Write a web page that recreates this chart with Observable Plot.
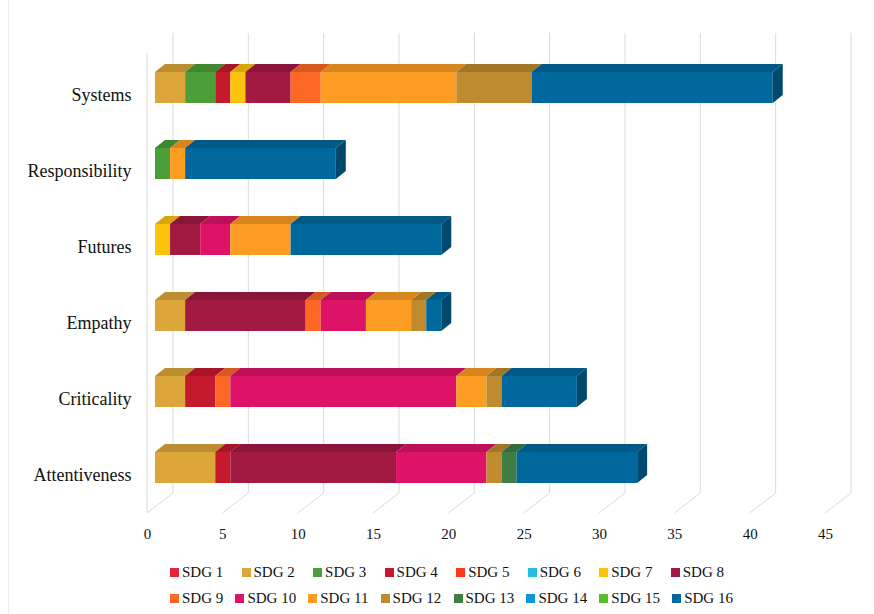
<!DOCTYPE html>
<html>
<head>
<meta charset="utf-8">
<script src="https://cdn.jsdelivr.net/npm/d3@7"></script>
<script src="https://cdn.jsdelivr.net/npm/@observablehq/plot@0.6"></script>
<style>
  body { margin: 0; background: #fff; }
  #wrap { position: relative; width: 874px; height: 614px; overflow: hidden; color: #111; }
  #wrap::before { content: ""; position: absolute; left: 8px; top: 0; bottom: 0;
                  border-left: 1px solid #ececec; }
  #legend { margin-top: 9px; }
  .legend-row { display: flex; justify-content: space-between; align-items: center;
                height: 26px; margin-left: 170px; font-size: 15px;
                font-family: "Liberation Serif", "Times New Roman", serif; }
  .legend-item { display: flex; align-items: center; white-space: nowrap;
                 font-family: "Liberation Serif", "Times New Roman", serif; }
  .legend-item .sw { width: 9px; height: 9px; margin-right: 3px; display: inline-block; }
</style>
</head>
<body>
<div id="wrap"><div id="chart"></div><div id="legend"></div></div>
<script>
// Competences (rows, top to bottom) and SDG series
const categories = ["Systems", "Responsibility", "Futures", "Empathy", "Criticality", "Attentiveness"];
const sdgLabels = ["SDG 1", "SDG 2", "SDG 3", "SDG 4", "SDG 5", "SDG 6", "SDG 7", "SDG 8",
                   "SDG 9", "SDG 10", "SDG 11", "SDG 12", "SDG 13", "SDG 14", "SDG 15", "SDG 16"];
const sdgColors = ["#E5243B", "#DDA63A", "#4C9F38", "#C5192D", "#FF3A21", "#26BDE2", "#FCC30B", "#A21942",
                   "#FD6925", "#DD1367", "#FD9D24", "#BF8B2E", "#3F7E44", "#0A97D9", "#56C02B", "#00689D"];
const xTicks = [0, 5, 10, 15, 20, 25, 30, 35, 40, 45];

// Counts per SDG (SDG 1 … SDG 16) for each competence
const systems        = [0, 2, 2, 1, 0, 0, 1, 3, 2, 0, 9, 5, 0, 0, 0, 16];
const responsibility = [0, 0, 1, 0, 0, 0, 0, 0, 0, 0, 1, 0, 0, 0, 0, 10];
const futures        = [0, 0, 0, 0, 0, 0, 1, 2, 0, 2, 4, 0, 0, 0, 0, 10];
const empathy        = [0, 2, 0, 0, 0, 0, 0, 8, 1, 3, 3, 1, 0, 0, 0, 1];
const criticality    = [0, 2, 0, 2, 0, 0, 0, 0, 1, 15, 2, 1, 0, 0, 0, 5];
const attentiveness  = [0, 4, 0, 1, 0, 0, 0, 11, 0, 6, 0, 1, 1, 0, 0, 8];

const countsByCategory = {
  Systems: systems, Responsibility: responsibility, Futures: futures,
  Empathy: empathy, Criticality: criticality, Attentiveness: attentiveness
};

const rows = categories.flatMap(cat =>
  countsByCategory[cat]
    .map((v, i) => ({category: cat, sdg: sdgLabels[i], value: v}))
    .filter(d => d.value > 0)
);

// depth of the pseudo-3D extrusion (px)
const DX = 10, DY = 8;
// floor / back-wall geometry of the grid (px)
const BACK = 18, FRONT = -8, FLOOR = 20;

function gridWalls(index, scales, values, dimensions) {
  const {marginTop, height, marginBottom} = dimensions;
  const yTop = marginTop, yBottom = height - marginBottom;
  const g = d3.create("svg:g").attr("fill", "none").attr("stroke", "#dcdcdc").attr("stroke-width", 1);
  for (const t of xTicks) {
    const x = scales.x(t);
    g.append("path").attr("d", `M${x + BACK},${yTop}V${yBottom}L${x + FRONT},${yBottom + FLOOR}`);
  }
  const x0 = scales.x(xTicks[0]) + FRONT;
  g.append("path").attr("d", `M${x0},${yTop + FLOOR}V${yBottom + FLOOR}`);
  return g.node();
}

function extrusion(index, scales) {
  const g = d3.create("svg:g");
  for (const cat of categories) {
    const y0 = scales.y(cat);
    const bw = scales.y.bandwidth();
    const segs = rows.filter(d => d.category === cat);
    let acc = 0;
    segs.forEach((d, k) => {
      const xa = scales.x(acc), xb = scales.x(acc + d.value);
      acc += d.value;
      const c = d3.color(scales.color(d.sdg));
      g.append("path")
        .attr("d", `M${xa},${y0}L${xa + DX},${y0 - DY}L${xb + DX},${y0 - DY}L${xb},${y0}Z`)
        .attr("fill", c.darker(0.45).formatHex());
      if (k === segs.length - 1) {
        g.append("path")
          .attr("d", `M${xb},${y0}L${xb + DX},${y0 - DY}L${xb + DX},${y0 + bw - DY}L${xb},${y0 + bw}Z`)
          .attr("fill", c.darker(1.0).formatHex());
      }
    });
  }
  return g.node();
}

const chart = Plot.plot({
  width: 874,
  height: 550,
  marginTop: 33,
  marginBottom: 57,
  marginLeft: 155,
  marginRight: 41,
  style: {fontFamily: '"Liberation Serif", "Times New Roman", serif', color: "#111", background: "#fff"},
  x: {domain: [0, 45], axis: null, label: null},
  y: {type: "band", domain: categories, range: [71, 483.5], paddingInner: 0.594, paddingOuter: 0, axis: null, label: null},
  color: {domain: sdgLabels, range: sdgColors},
  marks: [
    gridWalls,
    Plot.barX(rows, Plot.stackX({x: "value", y: "category", fill: "sdg", inset: 0})),
    extrusion,
    Plot.axisX(xTicks, {tickSize: 0, tickPadding: 35, dx: FRONT, fontSize: 15, label: null, tickFormat: d => String(d)}),
    Plot.axisY({tickSize: 0, tickPadding: 24, dy: 7, fontSize: 18, label: null})
  ]
});
document.getElementById("chart").appendChild(chart);

// Legend: two rows of SDG swatches
const legend = document.getElementById("legend");
[sdgLabels.slice(0, 8), sdgLabels.slice(8)].forEach((labels, r) => {
  const row = document.createElement("div");
  row.className = "legend-row";
  row.style.width = (r === 0 ? 554 : 563) + "px";
  labels.forEach(label => {
    const item = document.createElement("span");
    item.className = "legend-item";
    const sw = document.createElement("span");
    sw.className = "sw";
    sw.style.background = sdgColors[sdgLabels.indexOf(label)];
    item.appendChild(sw);
    item.appendChild(document.createTextNode(label));
    row.appendChild(item);
  });
  legend.appendChild(row);
});
</script>
</body>
</html>
